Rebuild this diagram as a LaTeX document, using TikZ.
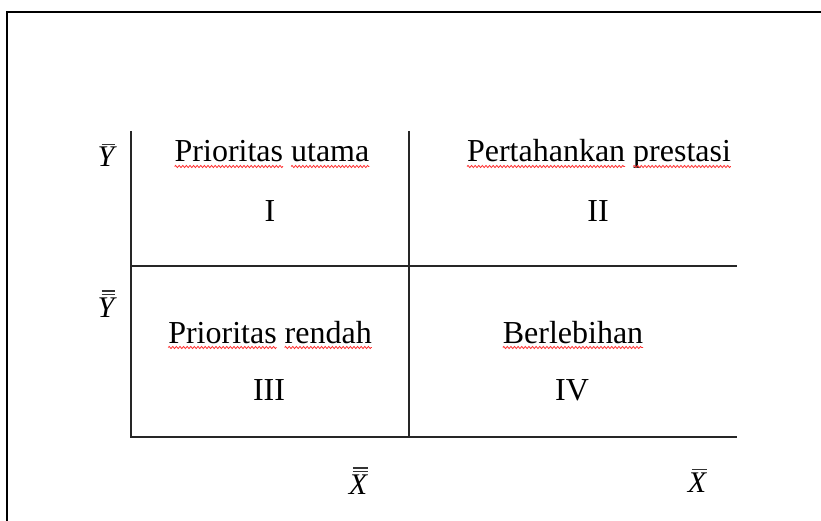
\documentclass[tikz,border=0pt]{standalone}
\usepackage{fontspec}
\setmainfont{Liberation Serif}
\usetikzlibrary{decorations.pathmorphing}
\tikzset{
  frameline/.style={line width=2pt, black},
  gridline/.style={line width=1.8pt, black!85},
  quadtext/.style={anchor=base, inner sep=0pt, outer sep=0pt, font=\fontsize{32}{38}\selectfont},
  wordL/.style={quadtext, anchor=base west},
  wordR/.style={quadtext, anchor=base east},
  axislabel/.style={anchor=base, inner sep=0pt, outer sep=0pt, font=\fontsize{30}{36}\selectfont\itshape},
  barline/.style={line width=1.6pt, black!80},
  spell/.style={draw=red!80, line width=0.8pt, decorate,
    decoration={zigzag, amplitude=1.1pt, segment length=3.6pt}},
}
\begin{document}
\begin{tikzpicture}[x=1pt,y=-1pt]
\useasboundingbox (0,0) rectangle (821,521);
% outer frame (only top and left visible)
\coordinate (fbl) at (7,522);
\coordinate (ftl) at (7,12);
\coordinate (ftr) at (822,12);
\draw[frameline] (fbl) -- (ftl) -- (ftr);
% grid
\coordinate (lt) at (131,131);
\coordinate (lm) at (131,266);
\coordinate (lb) at (131,437);
\coordinate (mt) at (409,131);
\coordinate (mb) at (409,437);
\coordinate (rm) at (737,266);
\coordinate (rb) at (737,437);
\draw[gridline] (lt) -- (lb) -- (rb);
\draw[gridline] (mt) -- (mb);
\draw[gridline] (lm) -- (rm);
% quadrant texts (phrase boxes give positions; words printed separately)
\node[quadtext] (t1) at (272,162) {\phantom{Prioritas utama}};
\node[wordL] (t1a) at (t1.base west) {Prioritas};
\node[wordR] (t1b) at (t1.base east) {utama};
\node[quadtext] (n1) at (270,222) {I};
\node[quadtext] (t2) at (599,162) {\phantom{Pertahankan prestasi}};
\node[wordL] (t2a) at (t2.base west) {Pertahankan};
\node[wordR] (t2b) at (t2.base east) {prestasi};
\node[quadtext] (n2) at (598,222) {II};
\node[quadtext] (t3) at (270,343) {\phantom{Prioritas rendah}};
\node[wordL] (t3a) at (t3.base west) {Prioritas};
\node[wordR] (t3b) at (t3.base east) {rendah};
\node[quadtext] (n3) at (269,400) {III};
\node[quadtext] (t4) at (573,343) {Berlebihan};
\node[quadtext] (n4) at (572,400) {IV};
% spell-check wavy underlines
\foreach \w in {t1a,t1b,t2a,t2b,t3a,t3b,t4}{
  \draw[spell] ([yshift=-4.5pt]\w.base west) -- ([yshift=-4.5pt]\w.base east);
}
% axis labels (letters with bars drawn above)
\node[axislabel] (yb) at (106,167) {Y};
\node[axislabel] (ybb) at (106,317) {Y};
\node[axislabel] (xbb) at (358,494) {X};
\node[axislabel] (xb) at (697,492) {X};
\draw[barline] ([xshift=4pt,yshift=3pt]yb.north west) -- ([xshift=1pt,yshift=3pt]yb.north east);
\draw[barline] ([xshift=4pt,yshift=3pt]ybb.north west) -- ([xshift=1pt,yshift=3pt]ybb.north east);
\draw[barline] ([xshift=4pt,yshift=6.5pt]ybb.north west) -- ([xshift=1pt,yshift=6.5pt]ybb.north east);
\draw[barline] ([xshift=4pt,yshift=3pt]xbb.north west) -- ([xshift=1pt,yshift=3pt]xbb.north east);
\draw[barline] ([xshift=4pt,yshift=6.5pt]xbb.north west) -- ([xshift=1pt,yshift=6.5pt]xbb.north east);
\draw[barline] ([xshift=4pt,yshift=3pt]xb.north west) -- ([xshift=1pt,yshift=3pt]xb.north east);
\end{tikzpicture}
\end{document}
